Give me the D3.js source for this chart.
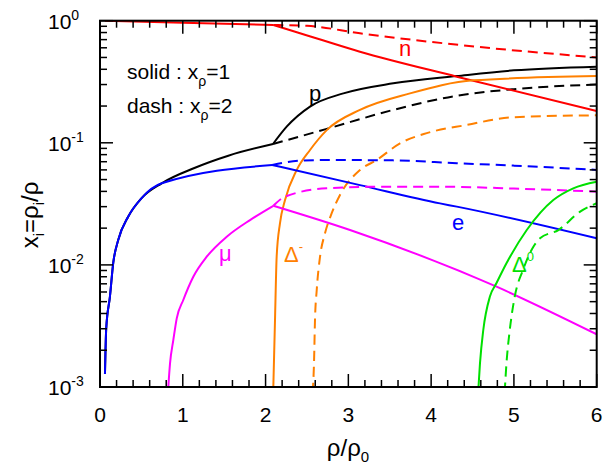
<!DOCTYPE html>
<html>
<head>
<meta charset="utf-8">
<script src="https://cdn.jsdelivr.net/npm/d3@7"></script>
<style>
  body { margin: 0; background: #fff; }
  text { font-family: "Liberation Sans", Arial, sans-serif; }
</style>
</head>
<body>
<div id="chart"></div>
<script>
// [rho/rho0, x_i]; each curve is split at its kink
const nSolidLow  = [[0.06, 1.0], [1.0, 0.96], [2.094, 0.922]]
const nSolidHigh = [[2.094, 0.922], [2.416, 0.79], [3.14, 0.557], [4.31, 0.348], [6.0, 0.182]]
const nDash      = [[2.094, 0.922], [2.5, 0.908], [3.14, 0.788], [4.55, 0.612], [6.0, 0.50]]

const pSolidLow  = [[0.06, 0.00128], [0.075, 0.003], [0.12, 0.0055], [0.16, 0.0104], [0.22, 0.016], [0.34, 0.0248], [0.5, 0.0351], [0.745, 0.0466], [1.148, 0.0625], [1.55, 0.0784], [2.09, 0.0978]]
const pSolidHigh = [[2.09, 0.0978], [2.255, 0.1355], [2.537, 0.198], [2.94, 0.254], [3.543, 0.307], [4.31, 0.352], [5.0, 0.392], [6.0, 0.42]]
const pDash      = [[2.09, 0.0978], [2.739, 0.130], [3.543, 0.186], [4.31, 0.243], [5.0, 0.275], [6.0, 0.30]]

const eSolidLow  = [[0.06, 0.00128], [0.075, 0.003], [0.12, 0.0055], [0.16, 0.0104], [0.22, 0.016], [0.34, 0.0248], [0.5, 0.0351], [0.745, 0.0466], [2.08, 0.0658]]
const eSolidHigh = [[2.08, 0.0658], [3.14, 0.045], [4.107, 0.0319], [4.31, 0.030], [6.0, 0.0165]]
const eDash      = [[2.08, 0.0658], [2.42, 0.0715], [2.74, 0.0723], [3.54, 0.0718], [4.31, 0.068], [5.0, 0.065], [6.0, 0.060]]

const muSolidLow  = [[0.825, 0.001], [0.846, 0.00156], [0.886, 0.00243], [0.927, 0.00365], [1.006, 0.00516], [1.127, 0.0080], [1.289, 0.01167], [1.531, 0.01702], [1.812, 0.0233], [2.094, 0.0305]]
const muSolidHigh = [[2.094, 0.0305], [3.02, 0.0193], [4.79, 0.00663], [6.0, 0.0027]]
const muDash      = [[2.094, 0.0305], [2.235, 0.0362], [2.739, 0.0424], [3.34, 0.0437], [4.107, 0.0437], [5.0, 0.0422], [6.0, 0.0398]]

const dmSolid = [[2.092, 0.0009], [2.114, 0.00354], [2.134, 0.01167], [2.174, 0.0219], [2.235, 0.034], [2.376, 0.0598], [2.537, 0.0873], [2.739, 0.127], [3.14, 0.186], [3.745, 0.254], [4.51, 0.325], [6.0, 0.352]]
const dmDash  = [[2.568, 0.0009], [2.585, 0.00156], [2.597, 0.00354], [2.618, 0.00623], [2.658, 0.01167], [2.718, 0.01815], [2.799, 0.0265], [2.899, 0.0374], [3.14, 0.0598], [3.342, 0.0723], [3.624, 0.099], [3.947, 0.12], [4.43, 0.14], [4.99, 0.162], [6.0, 0.168]]

const d0Solid = [[4.568, 0.0009], [4.59, 0.00156], [4.63, 0.00293], [4.71, 0.0055], [4.79, 0.0071], [4.91, 0.0103], [5.155, 0.0193], [5.476, 0.034], [5.717, 0.0424], [6.0, 0.048]]
const d0Dash  = [[4.888, 0.0009], [4.91, 0.00156], [4.95, 0.00293], [5.01, 0.0055], [5.11, 0.0091], [5.235, 0.0141], [5.315, 0.0165], [5.537, 0.0193], [5.8, 0.0273], [6.0, 0.032]]

const xMajor = [0, 1, 2, 3, 4, 5, 6]
const xMinor = [0.2, 0.4, 0.6, 0.8, 1.2, 1.4, 1.6, 1.8, 2.2, 2.4, 2.6, 2.8, 3.2, 3.4, 3.6, 3.8, 4.2, 4.4, 4.6, 4.8, 5.2, 5.4, 5.6, 5.8]
const yMajor = [0.001, 0.01, 0.1, 1]
const yMinor = [0.002, 0.003, 0.004, 0.005, 0.006, 0.007, 0.008, 0.009,
                0.02, 0.03, 0.04, 0.05, 0.06, 0.07, 0.08, 0.09,
                0.2, 0.3, 0.4, 0.5, 0.6, 0.7, 0.8, 0.9]
const yExp = ["-3", "-2", "-1", "0"]

const width = 605
const height = 466
const mLeft = 100, mRight = 596.7, mTop = 20.7, mBottom = 387

const svg = d3.select("#chart").append("svg")
    .attr("width", width)
    .attr("height", height)

const x = d3.scaleLinear().domain([0, 6]).range([mLeft, mRight])
const y = d3.scaleLog().domain([1e-3, 1]).range([mBottom, mTop])

svg.append("clipPath").attr("id", "plotclip")
  .append("rect")
    .attr("x", mLeft).attr("y", mTop)
    .attr("width", mRight - mLeft).attr("height", mBottom - mTop)

const curveLine = d3.line()
    .x(d => x(d[0]))
    .y(d => y(d[1]))
    .curve(d3.curveMonotoneX)

const curves = [
    {data: pSolidLow, color: "#000", dash: false},
    {data: pSolidHigh, color: "#000", dash: false},
    {data: pDash, color: "#000", dash: true},
    {data: nSolidLow, color: "#ff0000", dash: false},
    {data: nSolidHigh, color: "#ff0000", dash: false},
    {data: nDash, color: "#ff0000", dash: true},
    {data: dmSolid, color: "#ff8000", dash: false},
    {data: dmDash, color: "#ff8000", dash: true},
    {data: eSolidLow, color: "#0000ff", dash: false},
    {data: eSolidHigh, color: "#0000ff", dash: false},
    {data: eDash, color: "#0000ff", dash: true},
    {data: muSolidLow, color: "#ff00ff", dash: false},
    {data: muSolidHigh, color: "#ff00ff", dash: false},
    {data: muDash, color: "#ff00ff", dash: true},
    {data: d0Solid, color: "#00e000", dash: false},
    {data: d0Dash, color: "#00e000", dash: true}
]

const plotG = svg.append("g").attr("clip-path", "url(#plotclip)")
curves.forEach(c => {
    plotG.append("path")
        .datum(c.data)
        .attr("fill", "none")
        .attr("stroke", c.color)
        .attr("stroke-width", 2)
        .attr("stroke-dasharray", c.dash ? "10,6" : null)
        .attr("d", curveLine)
})

// inward ticks on all four sides, drawn with the same line generator as the curves
const tickLine = d3.line().x(d => x(d[0])).y(d => y(d[1]))
const xTickLen = v => Math.pow(10, 13 / 122.1)
const tickData = []
const yPerPx = 3 / (mBottom - mTop)
const xPerPx = 6 / (mRight - mLeft)
;[[xMajor, 13], [xMinor, 7]].forEach(([vals, s]) => vals.forEach(v => {
    tickData.push([[v, 1e-3], [v, 1e-3 * Math.pow(10, s * yPerPx)]])
    tickData.push([[v, 1], [v, Math.pow(10, -s * yPerPx)]])
}))
;[[yMajor, 13], [yMinor, 7]].forEach(([vals, s]) => vals.forEach(v => {
    tickData.push([[0, v], [s * xPerPx, v]])
    tickData.push([[6, v], [6 - s * xPerPx, v]])
}))
tickData.forEach(t => {
    svg.append("path")
        .datum(t)
        .attr("fill", "none")
        .attr("stroke", "#000")
        .attr("stroke-width", 1.5)
        .attr("d", tickLine)
})

svg.append("rect")
    .attr("x", mLeft).attr("y", mTop)
    .attr("width", mRight - mLeft).attr("height", mBottom - mTop)
    .attr("fill", "none")
    .attr("stroke", "#000")
    .attr("stroke-width", 2)

svg.selectAll(".xlab")
    .data(xMajor)
    .enter().append("text")
    .attr("x", d => x(d))
    .attr("y", mBottom + 35)
    .attr("text-anchor", "middle")
    .attr("font-size", 21)
    .text(d => d)

// "10" with a raised exponent
const ylab = svg.selectAll(".ylab")
    .data(yMajor)
    .enter().append("text")
    .attr("x", 48)
    .attr("y", d => y(d) + 8)
    .attr("font-size", 21)
ylab.append("tspan").text("10")
ylab.append("tspan")
    .attr("font-size", 14)
    .attr("dy", -9)
    .text((d, i) => yExp[i])

// axis titles
const yt = svg.append("text")
    .attr("transform", "translate(38,215) rotate(-90)")
    .attr("text-anchor", "middle")
    .attr("font-size", 24)
yt.append("tspan").text("x")
yt.append("tspan").attr("font-size", 15).attr("dy", 6).text("i")
yt.append("tspan").attr("dy", -6).text("=ρ")
yt.append("tspan").attr("font-size", 15).attr("dy", 6).text("i")
yt.append("tspan").attr("dy", -6).text("/ρ")

const xt = svg.append("text")
    .attr("x", 348)
    .attr("y", 456)
    .attr("text-anchor", "middle")
    .attr("font-size", 24)
xt.append("tspan").text("ρ/ρ")
xt.append("tspan").attr("font-size", 15).attr("dy", 6).text("0")

// line style note
const notes = [["solid : x", "=1", 79], ["dash : x", "=2", 113]]
notes.forEach(n => {
    const t = svg.append("text")
        .attr("x", 127)
        .attr("y", n[2])
        .attr("font-size", 21)
    t.append("tspan").text(n[0])
    t.append("tspan").attr("font-size", 14).attr("dy", 7).text("ρ")
    t.append("tspan").attr("dy", -7).text(n[1])
})

// curve labels
const labels = [
    {t: "n", sup: "", color: "#ff0000", x: 399, y: 56},
    {t: "p", sup: "", color: "#000", x: 309, y: 101},
    {t: "e", sup: "", color: "#0000ff", x: 452, y: 230},
    {t: "μ", sup: "", color: "#ff00ff", x: 219, y: 261},
    {t: "Δ", sup: "-", color: "#ff8000", x: 284, y: 262},
    {t: "Δ", sup: "0", color: "#00e000", x: 512, y: 272}
]
labels.forEach(l => {
    const t = svg.append("text")
        .attr("x", l.x)
        .attr("y", l.y)
        .attr("fill", l.color)
        .attr("font-size", 22)
    t.append("tspan").text(l.t)
    if (l.sup) t.append("tspan").attr("font-size", 13).attr("dy", -11).text(l.sup)
})
</script>
</body>
</html>
